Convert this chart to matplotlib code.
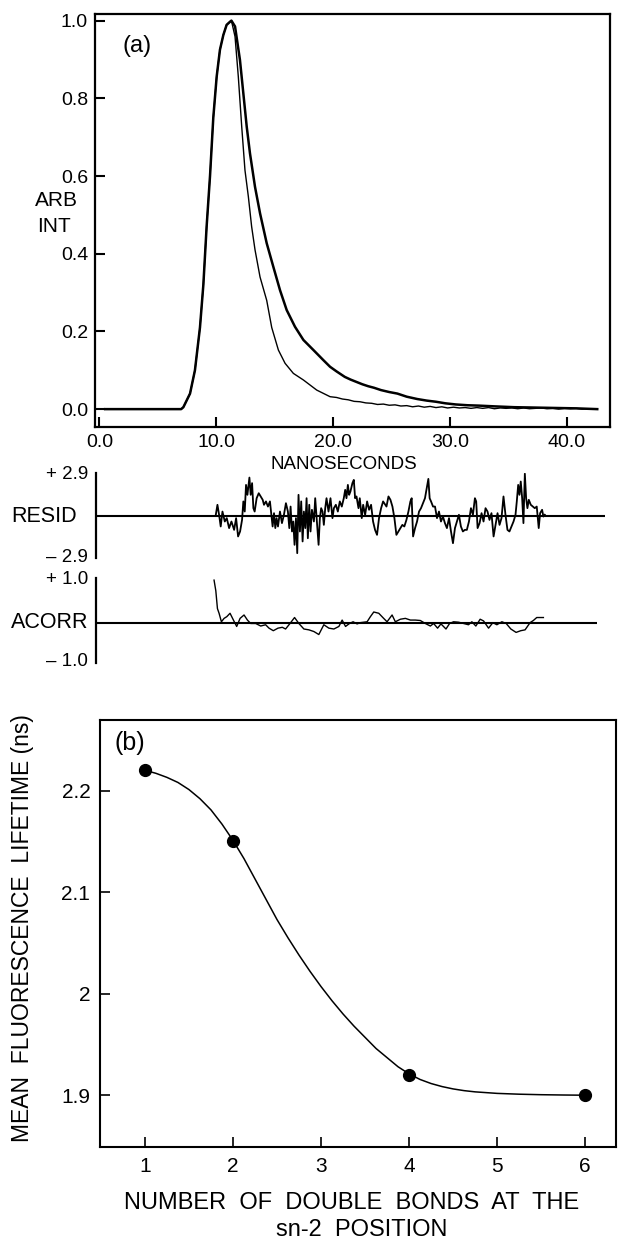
import matplotlib
matplotlib.use('Agg')
import matplotlib.pyplot as plt

plt.rcParams['font.family'] = ['Liberation Sans', 'DejaVu Sans']

# ---------------- data ----------------
# (a) fast decay (thin) and slow decay (thick) traces, ns / arbitrary intensity
t_fast = [0.5, 7.0, 7.19, 7.76, 8.18, 8.61, 8.90, 9.18, 9.47, 9.75, 10.04, 10.32, 10.61,
          10.89, 11.18, 11.3, 11.61, 11.89, 12.18, 12.46, 12.75, 13.03, 13.32, 13.75, 14.32,
          14.75, 15.32, 15.89, 16.60, 17.46, 18.60, 19.74, 20.3, 20.8, 21.3, 21.8, 22.3, 22.8,
          23.3, 23.8, 24.3, 24.8, 25.3, 25.8, 26.3, 26.8, 27.3, 27.8, 28.3, 28.8, 29.3, 29.8,
          30.3, 30.8, 31.3, 31.8, 32.3, 32.8, 33.3, 33.8, 34.3, 34.8, 35.3, 35.8, 36.3, 36.8,
          37.3, 37.8, 38.3, 38.8, 39.3, 39.8, 40.3, 40.8, 41.3, 41.8, 42.3, 42.6]
i_fast = [0.0, 0.0, 0.005, 0.04, 0.10, 0.21, 0.32, 0.47, 0.60, 0.75, 0.856, 0.925, 0.963,
          0.989, 0.997, 1.0, 0.959, 0.856, 0.728, 0.615, 0.547, 0.47, 0.41, 0.34, 0.28,
          0.21, 0.152, 0.118, 0.092, 0.075, 0.049, 0.032, 0.030, 0.026, 0.024, 0.020, 0.019, 0.016,
          0.015, 0.012, 0.013, 0.010, 0.011, 0.008, 0.009, 0.006, 0.008, 0.005, 0.007, 0.004, 0.006, 0.003,
          0.005, 0.003, 0.004, 0.002, 0.004, 0.002, 0.004, 0.001, 0.003, 0.002, 0.003, 0.001, 0.003, 0.001,
          0.002, 0.003, 0.001, 0.002, 0.000, 0.002, 0.001, 0.002, 0.000, 0.001, 0.000, 0.000]

t_slow = [0.5, 7.0, 7.19, 7.76, 8.18, 8.61, 8.90, 9.18, 9.47, 9.75, 10.04, 10.32, 10.61,
          10.89, 11.18, 11.3, 11.61, 12.03, 12.32, 12.61, 12.89, 13.32, 13.75, 14.32, 14.89,
          15.46, 16.03, 16.74, 17.46, 18.32, 19.17, 19.74, 20.3, 21.0, 21.5, 22.0, 22.5, 23.0,
          23.5, 24.1, 24.8, 25.5, 26.3, 27.2, 28.0, 28.8, 29.6, 30.5, 31.5, 32.5, 33.9, 35.5,
          37.3, 39.0, 40.8, 42.6]
i_slow = [0.0, 0.0, 0.005, 0.04, 0.10, 0.21, 0.32, 0.47, 0.60, 0.75, 0.856, 0.925, 0.963,
          0.989, 0.997, 1.0, 0.985, 0.899, 0.813, 0.727, 0.658, 0.572, 0.504, 0.427, 0.366,
          0.306, 0.255, 0.212, 0.178, 0.152, 0.126, 0.109, 0.097, 0.083, 0.076, 0.070, 0.064, 0.059,
          0.055, 0.049, 0.044, 0.040, 0.032, 0.026, 0.022, 0.019, 0.015, 0.012, 0.010, 0.009, 0.007, 0.005,
          0.004, 0.003, 0.002, 0.000]

# weighted residuals
t_resid = [9.90, 10.04, 10.18, 10.32, 10.47, 10.67, 10.84, 11.04, 11.24, 11.47,
           11.64, 11.81, 11.98, 12.15, 12.26, 12.38, 12.49, 12.61, 12.78, 12.89,
           13.01, 13.12, 13.23, 13.40, 13.58, 13.75, 13.92, 14.03, 14.20, 14.37,
           14.54, 14.66, 14.77, 14.89, 15.00, 15.11, 15.23, 15.40, 15.57, 15.74,
           15.91, 16.08, 16.20, 16.31, 16.43, 16.54, 16.65, 16.77, 16.88, 16.99,
           17.11, 17.22, 17.34, 17.45, 17.57, 17.68, 17.79, 17.91, 18.02, 18.14,
           18.31, 18.42, 18.59, 18.71, 18.82, 18.93, 19.05, 19.16, 19.28, 19.39,
           19.56, 19.73, 19.90, 20.02, 20.19, 20.36, 20.53, 20.70, 20.87, 20.99,
           21.10, 21.22, 21.33, 21.44, 21.61, 21.73, 21.84, 21.96, 22.13, 22.24,
           22.41, 22.53, 22.70, 22.87, 23.04, 23.21, 23.38, 23.55, 23.72, 23.89,
           24.07, 24.24,
           24.53, 24.70, 24.87, 25.04, 25.21, 25.38, 25.55, 25.72, 25.89, 26.06,
           26.24, 26.41, 26.58, 26.69, 26.81, 26.98, 27.15, 27.32, 27.49, 27.66,
           27.83, 28.00, 28.12, 28.23, 28.35, 28.52, 28.69, 28.86, 29.03, 29.20,
           29.37, 29.54, 29.71, 29.89, 30.06, 30.23, 30.40, 30.57, 30.74, 30.91,
           31.08, 31.25, 31.42, 31.60, 31.77, 31.94, 32.11, 32.22, 32.34, 32.51,
           32.68, 32.85, 33.02, 33.19, 33.36, 33.53, 33.71, 33.88, 34.05, 34.22,
           34.39, 34.56, 34.73, 34.90, 35.07, 35.24, 35.42, 35.59, 35.70, 35.82,
           35.93, 36.04, 36.16, 36.27, 36.39, 36.50, 36.61, 36.73, 36.90, 37.07,
           37.24, 37.41, 37.58, 37.70, 37.87, 37.98, 38.10]
resid = [0.05, 0.73, 0.05, -0.75, 0.27, -0.41, -0.18, -0.86, -0.41, -0.98,
         -0.18, -1.43, -1.09, -0.30, 0.96, 0.27, 2.09, 1.41, 2.59, 1.41,
         2.21, 0.50, 0.27, 1.18, 1.52, 1.30, 1.07, 0.73, 0.96, 0.61,
         0.96, 0.05, -0.75, 0.16, -0.86, -0.18, -0.75, 0.27, -0.52, 0.05,
         0.84, 0.27, -0.86, 0.61, -1.09, -0.41, -2.00, -0.18, -2.57, 1.41,
         -1.09, 0.96, -1.77, 0.27, -0.86, 1.18, -1.55, 0.73, -1.09, 0.39,
         -0.41, 1.18, -0.64, -2.00, -0.18, 0.50, 0.27, -0.64, 0.50, 1.18,
         0.27, 1.18, -0.18, 0.50, 0.73, 0.27, 0.96, 0.61, 1.18, 1.75,
         1.18, 2.09, 1.41, 1.64, 2.21, 2.43, 1.18, 1.30, 0.50, 1.18,
         -0.18, 0.73, 0.05, 0.96, 0.39, 0.73, -0.41, -0.98, -1.32, -0.18,
         0.50, 0.96,
         0.61, 1.30, 1.07, 0.61, -0.18, -1.32, -1.09, -0.86, -0.64, -0.75,
         -0.30, 0.27, 0.96, 1.18, -1.43, -0.86, -0.41, 0.27, 0.50, 0.84,
         1.18, 1.98, 2.50, 1.18, 0.96, 0.61, 0.61, -0.18, 0.27, -0.41,
         -0.07, -0.52, -0.86, -0.18, -1.09, -1.89, -0.86, -0.41, 0.05, -0.75,
         -1.09, -0.98, -0.98, -0.41, 0.50, 0.05, 1.18, 0.96, -0.86, -0.52,
         0.16, -0.41, 0.50, 0.27, -0.30, 0.16, -1.43, -0.64, 0.16, -0.64,
         -0.18, 1.30, 0.05, -0.98, -1.09, -0.75, -0.41, 0.05, 0.96, 2.09,
         1.41, 2.32, 1.18, -0.52, 2.85, 1.18, 0.50, 1.07, 0.73, 0.61,
         0.50, 0.61, -0.86, 0.16, 0.39, -0.07, 0.05]

# autocorrelation of residuals
t_acorr = [9.75, 9.90, 10.04, 10.18, 10.38, 10.61, 10.84, 11.12, 11.41, 11.69,
           11.98, 12.32, 12.61, 12.89, 13.32, 13.75, 14.17, 14.46, 14.83, 15.23,
           15.60, 15.88, 16.26, 16.65, 17.02, 17.45, 17.88, 18.31, 18.73, 19.16,
           19.59, 20.02, 20.45, 20.73, 21.02, 21.36, 21.67, 22.01, 22.30, 22.87,
           23.15, 23.44, 23.87, 24.29, 24.58, 25.01, 25.29, 25.72, 26.15, 26.58,
           27.00, 27.43, 27.86, 28.29, 28.57, 28.91, 29.20, 29.63, 29.94, 30.28,
           30.71, 31.14, 31.56, 31.85, 32.19, 32.56, 32.85, 33.28, 33.65, 33.99,
           34.42, 34.79, 35.19, 35.64, 36.04, 36.41, 36.84, 37.12, 37.41, 37.98]
acorr = [1.0, 0.75, 0.33, 0.22, 0.02, 0.10, 0.14, 0.22, 0.06, -0.09,
         0.10, 0.18, 0.06, -0.02, -0.02, -0.08, -0.05, -0.13, -0.19, -0.13,
         -0.11, -0.15, -0.02, 0.12, -0.02, -0.15, -0.17, -0.21, -0.28, -0.05,
         -0.13, -0.15, -0.09, 0.06, -0.09, -0.02, 0.02, -0.03, 0.0, 0.02,
         0.14, 0.25, 0.22, 0.10, 0.02, 0.18, 0.02, 0.08, 0.10, 0.06,
         0.06, 0.05, -0.02, -0.08, -0.02, -0.13, -0.03, -0.15, -0.02, 0.02,
         0.01, -0.02, -0.05, 0.02, -0.08, 0.08, 0.04, -0.13, 0.0, -0.05,
         0.02, -0.02, -0.15, -0.23, -0.19, -0.17, 0.0, 0.05, 0.12, 0.12]

# (b) mean lifetime vs number of double bonds
n_bonds = [1, 2, 4, 6]
lifetime = [2.22, 2.15, 1.92, 1.90]
# smooth guide curve
curve_x = [1.0, 1.125, 1.25, 1.375, 1.5, 1.625, 1.75, 1.875, 2.0, 2.125, 2.25, 2.375,
           2.5, 2.625, 2.75, 2.875, 3.0, 3.125, 3.25, 3.375, 3.5, 3.625, 3.75, 3.875,
           4.0, 4.125, 4.25, 4.375, 4.5, 4.625, 4.75, 5.0, 5.25, 5.5, 5.75, 6.0]
curve_y = [2.220, 2.217, 2.213, 2.208, 2.201, 2.192, 2.181, 2.167, 2.151, 2.133, 2.113, 2.093,
           2.073, 2.055, 2.038, 2.022, 2.007, 1.993, 1.980, 1.968, 1.957, 1.946, 1.937, 1.928,
           1.921, 1.9155, 1.9115, 1.9085, 1.9062, 1.9045, 1.9033, 1.9018, 1.9010, 1.9005,
           1.9002, 1.9000]

a_xticks = [0, 10, 20, 30, 40]
a_xticklabels = ['0.0', '10.0', '20.0', '30.0', '40.0']
a_yticks = [0.0, 0.2, 0.4, 0.6, 0.8, 1.0]
a_yticklabels = ['0.0', '0.2', '0.4', '0.6', '0.8', '1.0']
b_xticks = [1, 2, 3, 4, 5, 6]
b_yticks = [1.9, 2.0, 2.1, 2.2]
b_yticklabels = ['1.9', '2', '2.1', '2.2']

# ---------------- layout ----------------
W, H = 621, 1240
fig = plt.figure(figsize=(W / 100, H / 100), dpi=100)


def box(l, t, r, b):
    return [l / W, 1 - b / H, (r - l) / W, (b - t) / H]


def fx(px):
    return px / W


def fy(py):
    return 1 - py / H


K = 'black'
XL = (-0.37, 43.69)

# ---- panel (a) ----
ax = fig.add_axes(box(95, 14, 610, 427))
ax.plot(t_fast, i_fast, color=K, lw=1.0)
ax.plot(t_slow, i_slow, color=K, lw=1.8)
ax.set_xlim(*XL)
ax.set_ylim(-0.046, 1.017)
ax.set_xticks(a_xticks)
ax.set_xticklabels(a_xticklabels)
ax.set_yticks(a_yticks)
ax.set_yticklabels(a_yticklabels)
ax.tick_params(direction='in', length=7, width=1.5, labelsize=14, pad=5, colors=K)
for s in ax.spines.values():
    s.set_linewidth(1.6)
fig.text(fx(122), fy(46), '(a)', fontsize=17, ha='left', va='center')
fig.text(fx(35), fy(200), 'ARB', fontsize=15, ha='left', va='center')
fig.text(fx(37), fy(227), 'INT', fontsize=15, ha='left', va='center')
fig.text(fx(344), fy(464), 'NANOSECONDS', fontsize=13.5, ha='center', va='center')

# ---- residuals ----
ar = fig.add_axes(box(96, 473, 610, 558))
ar.plot(t_resid, resid, color=K, lw=1.3)
ar.hlines(0, XL[0], 43.3, color=K, lw=1.5)
ar.set_xlim(*XL)
ar.set_ylim(-2.9, 2.9)
for k in ('top', 'right', 'bottom'):
    ar.spines[k].set_visible(False)
ar.spines['left'].set_linewidth(1.6)
ar.set_xticks([])
ar.set_yticks([])
ar.patch.set_alpha(0)
fig.text(fx(88), fy(474), '+ 2.9', fontsize=13.5, ha='right', va='center')
fig.text(fx(88), fy(557), '\u2013 2.9', fontsize=13.5, ha='right', va='center')
fig.text(fx(11), fy(516), 'RESID', fontsize=15.5, ha='left', va='center')

# ---- autocorrelation ----
ac = fig.add_axes(box(96, 578, 610, 663))
ac.plot(t_acorr, acorr, color=K, lw=1.0)
ac.hlines(0, XL[0], 42.6, color=K, lw=1.5)
ac.set_xlim(*XL)
ac.set_ylim(-0.95, 1.05)
for k in ('top', 'right', 'bottom'):
    ac.spines[k].set_visible(False)
ac.spines['left'].set_linewidth(1.6)
ac.set_xticks([])
ac.set_yticks([])
ac.patch.set_alpha(0)
fig.text(fx(88), fy(580), '+ 1.0', fontsize=13.5, ha='right', va='center')
fig.text(fx(88), fy(662), '\u2013 1.0', fontsize=13.5, ha='right', va='center')
fig.text(fx(11), fy(623), 'ACORR', fontsize=15.5, ha='left', va='center')

# ---- panel (b) ----
bx = fig.add_axes(box(100, 720, 616, 1147))
bx.plot(curve_x, curve_y, color=K, lw=1.1, solid_joinstyle='round')
bx.plot(n_bonds, lifetime, 'o', color=K, ms=8.5)
bx.set_xlim(0.49, 6.35)
bx.set_ylim(1.849, 2.2695)
bx.set_xticks(b_xticks)
bx.set_yticks(b_yticks)
bx.set_yticklabels(b_yticklabels)
bx.tick_params(direction='in', length=7, width=1.2, labelsize=15, pad=7, colors=K)
for s in bx.spines.values():
    s.set_linewidth(1.5)
fig.text(fx(114), fy(743), '(b)', fontsize=18, ha='left', va='center')
fig.text(fx(23), fy(928), 'MEAN  FLUORESCENCE  LIFETIME (ns)', fontsize=16.5,
         rotation=90, ha='center', va='center')
fig.text(fx(352), fy(1203), 'NUMBER  OF  DOUBLE  BONDS  AT  THE', fontsize=17,
         ha='center', va='center')
fig.text(fx(362), fy(1230), 'sn-2  POSITION', fontsize=17, ha='center', va='center')

fig.savefig('out.png', dpi=100, facecolor='white')
